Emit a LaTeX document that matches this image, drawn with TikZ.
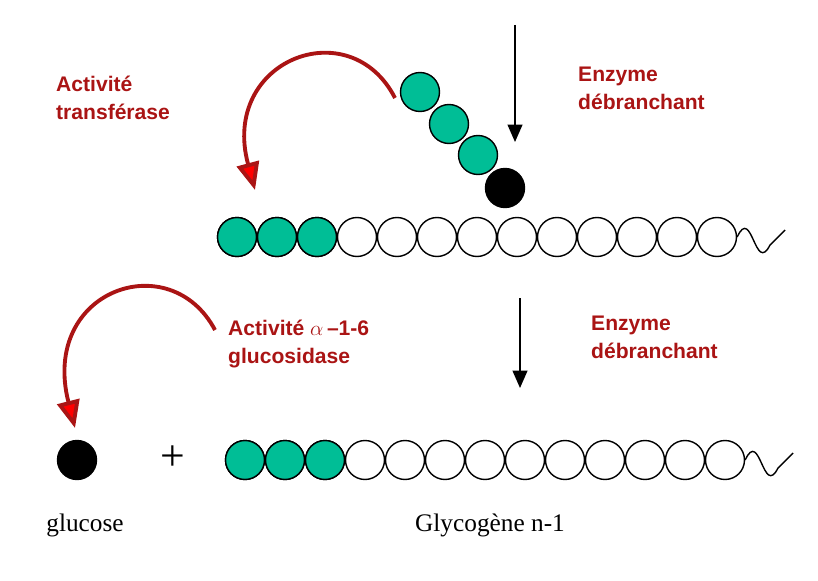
\documentclass[tikz,border=0pt]{standalone}
\usepackage{fontspec}
\setsansfont{Liberation Sans}
\setmainfont{Liberation Serif}
\usetikzlibrary{arrows.meta}
\definecolor{teal1}{RGB}{0,190,150}
\definecolor{darkred}{RGB}{170,20,20}
\tikzset{
  glc/.style={circle, draw=black, thick, minimum size=0.78cm, inner sep=0pt, fill=white},
  glcv/.style={glc, fill=teal1},
  glcn/.style={glc, fill=black},
  lab/.style={text=darkred, font=\sffamily\bfseries\large, align=left, anchor=west},
  redarrow/.style={line width=2.2pt, draw=darkred, -{Triangle[length=0.55cm,width=0.45cm,fill=red]}},
}
\begin{document}
\begin{tikzpicture}[x=0.02cm, y=-0.02cm]
  \useasboundingbox (0,0) rectangle (818,581);

  % Chaine du haut
  \foreach \i in {0,...,12}
    \node[glc] (t\i) at (237+40*\i,237) {};
  \foreach \i in {0,1,2}
    \node[glcv] (t\i) at (237+40*\i,237) {};
  \draw[thick] (t12.east) .. controls (752,205) and (755,275) .. (770,245) -- (785,230);

  % Branche
  \node[glcv] (b1) at (420,92) {};
  \node[glcv] (b2) at (449,124) {};
  \node[glcv] (b3) at (478,155) {};
  \node[glcn] (b4) at (505,188) {};

  \coordinate (e1) at (515,25);
  \draw[-{Triangle[length=0.35cm,width=0.3cm]}, thick] (e1) -- (515,142);
  \node[lab] (enz1) at (572,88) {Enzyme\\[2pt]débranchant};
  \node[lab] (tr) at (50,98) {Activité\\[2pt]transférase};

  \coordinate (c1) at (395,98);
  \coordinate (c2) at (255,190);
  \draw[redarrow] (c1) .. controls (350,10) and (220,60) .. (c2);

  % Chaine du bas
  \foreach \i in {0,...,12}
    \node[glc] (g\i) at (245+40*\i,460) {};
  \foreach \i in {0,1,2}
    \node[glcv] (g\i) at (245+40*\i,460) {};
  \draw[thick] (g12.east) .. controls (760,428) and (763,498) .. (778,468) -- (793,453);

  \node[glcn] (glu) at (77,460) {};
  \node[font=\Huge] (plus) at (173,458) {+};
  \node[font=\Large] (glul) at (85,525) {glucose};
  \node[font=\Large] (gly) at (490,525) {Glycogène n-1};

  \coordinate (e2) at (520,298);
  \draw[-{Triangle[length=0.35cm,width=0.3cm]}, thick] (e2) -- (520,388);
  \node[lab] (enz2) at (585,337) {Enzyme\\[2pt]débranchant};
  \node[lab] (gl) at (222,344) {Activité $\alpha$\,--1-6\\[2pt]glucosidase};

  \coordinate (c3) at (215,330);
  \coordinate (c4) at (75,428);
  \draw[redarrow] (c3) .. controls (170,245) and (40,290) .. (c4);
\end{tikzpicture}
\end{document}
